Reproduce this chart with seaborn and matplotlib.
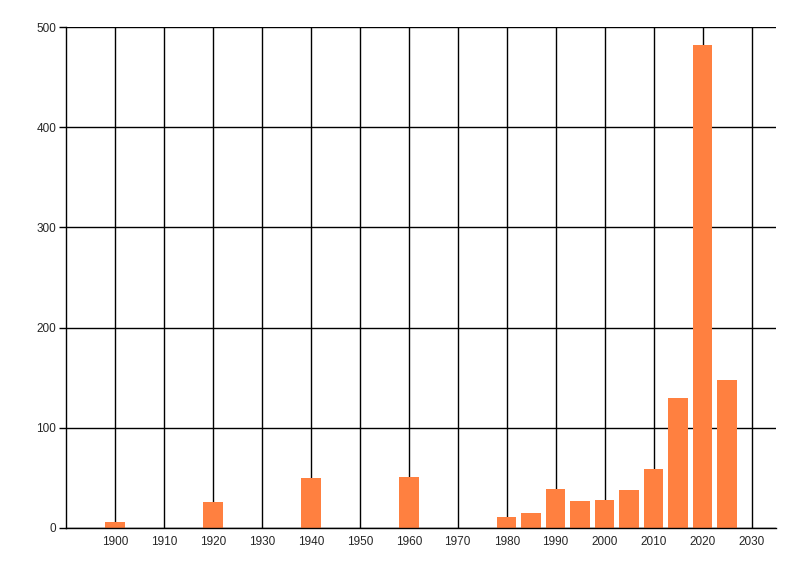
import seaborn as sns
import matplotlib.pyplot as plt
import pandas as pd

years = [1900, 1920, 1940, 1960, 1980, 1985, 1990, 1995, 2000, 2005, 2010, 2015, 2020, 2025]
counts = [6, 26, 50, 51, 11, 15, 39, 27, 28, 38, 59, 130, 482, 148]
x_ticks = list(range(1900, 2031, 10))
y_ticks = [0, 100, 200, 300, 400, 500]

df = pd.DataFrame({'year': years, 'count': counts})

sns.set_style('white')
plt.rcParams['font.family'] = ['Liberation Sans', 'DejaVu Sans']

dpi = 100
fig = plt.figure(figsize=(800 / dpi, 576 / dpi), dpi=dpi)
ax = fig.add_axes([66 / 800, 48 / 576, 710 / 800, 501 / 576])

sns.barplot(data=df, x='year', y='count', native_scale=True, width=0.8,
            color='#FF8040', saturation=1, linewidth=0, edgecolor='none',
            ax=ax, zorder=2)

ax.set_xlim(1890, 2035)
ax.set_ylim(0, 500)
ax.set_xticks(x_ticks)
ax.set_yticks(y_ticks)
ax.set_xlabel('')
ax.set_ylabel('')
ax.grid(True, color='black', linewidth=1)
ax.set_axisbelow(True)

for side in ['top', 'right']:
    ax.spines[side].set_visible(False)
for side in ['left', 'bottom']:
    ax.spines[side].set_color('black')
    ax.spines[side].set_linewidth(1)

ax.tick_params(axis='y', length=5, width=1, color='black', labelsize=8.5, pad=2, left=True)
ax.tick_params(axis='x', length=0, labelsize=8.5, pad=6)

fig.savefig('out.png', dpi=dpi)
